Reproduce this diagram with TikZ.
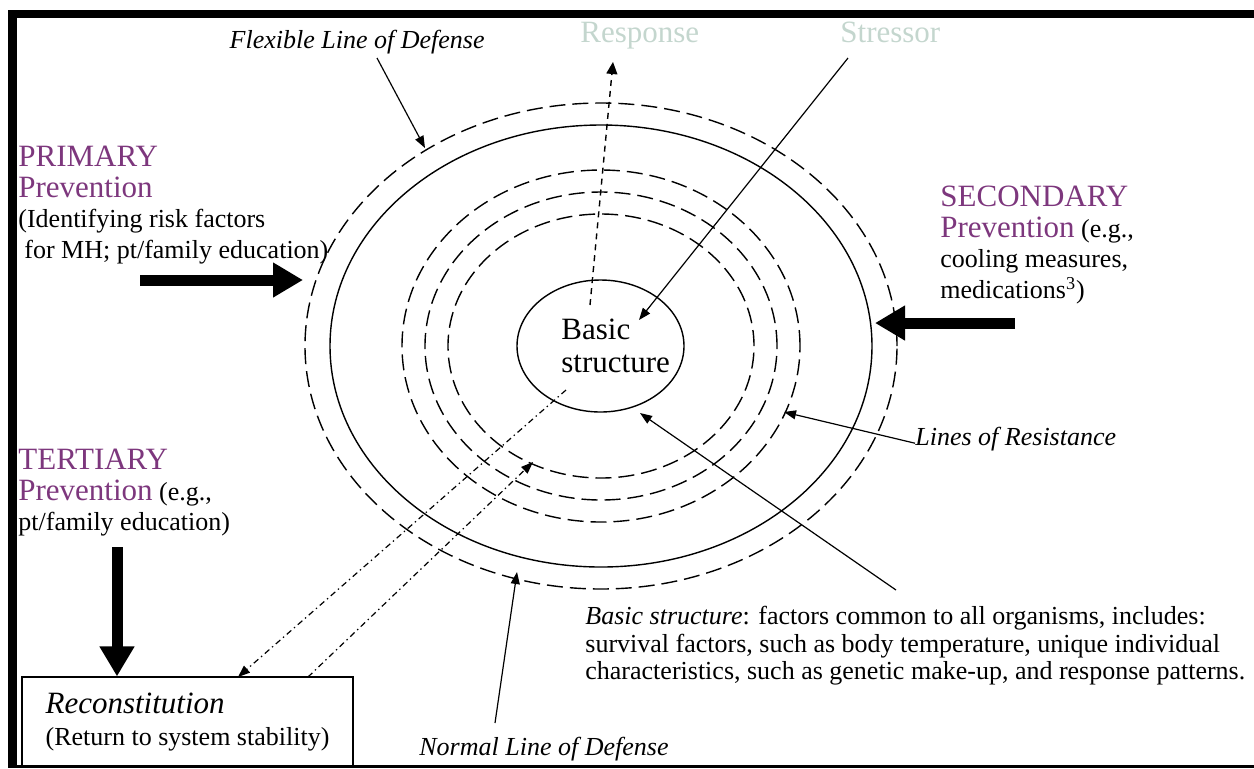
\documentclass[tikz,border=0pt]{standalone}
\usepackage{fontspec}
\setmainfont{Liberation Serif}
\usetikzlibrary{arrows.meta,shapes.geometric}
\definecolor{prevpurple}{RGB}{125,55,125}
\definecolor{palegreen}{RGB}{196,214,206}
\newcommand{\headtxt}[1]{{\color{prevpurple}\fontsize{15.5}{15.2}\selectfont #1}}
\tikzset{
  ring/.style={line width=0.7pt,dash pattern=on 8pt off 3.5pt},
  core/.style={draw,ellipse,line width=0.7pt,minimum width=83.5pt,minimum height=66pt,inner sep=0pt},
  thin arrow/.style={line width=0.6pt,-{Triangle[length=6pt,width=4.5pt]}},
  resp arrow/.style={line width=0.7pt,dash pattern=on 3pt off 2.5pt,-{Triangle[length=6pt,width=5.5pt]}},
  back arrow/.style={line width=0.6pt,dash pattern=on 3pt off 1.8pt on 0.7pt off 1.8pt,-{Triangle[length=6pt,width=4.5pt]}},
  big arrow/.style={line width=5.5pt,-{Triangle[length=15pt,width=16.5pt]}},
  linetxt/.style={font=\fontsize{13}{13.75}\selectfont\itshape,inner sep=0pt},
  toptxt/.style={font=\fontsize{15.5}{16}\selectfont,text=palegreen,inner sep=0pt},
  blocktxt/.style={font=\fontsize{13}{15.2}\selectfont,align=left,inner sep=0pt},
  bodytxt/.style={font=\fontsize{13}{13.75}\selectfont,align=left,inner sep=0pt},
  coretxt/.style={font=\fontsize{15.5}{16.5}\selectfont,align=left,inner sep=0pt},
  recbox/.style={draw,line width=0.6pt,font=\fontsize{13}{16}\selectfont,align=left,minimum width=165.5pt,minimum height=45pt}
}
\begin{document}
\begin{tikzpicture}[x=0.5pt,y=-0.5pt]
\useasboundingbox (0,0) rectangle (1254,768);

\coordinate (c) at (601,346);
\draw[ring] (c) ellipse [x radius=148pt,y radius=121.5pt];
\draw[line width=0.7pt] (c) ellipse [x radius=135.5pt,y radius=110.5pt];
\foreach \rx/\ry in {99.5/88,88/77,76.5/66}
  \draw[ring] (c) ellipse [x radius=\rx pt,y radius=\ry pt];
\node[core] (core) at (600.5,346) {};
\node[coretxt,anchor=north west] (coretxt) at (561,319) {Basic\\structure};

\node[linetxt,anchor=base east] (flex) at (485,48.6) {Flexible Line of Defense};
\node[toptxt,anchor=base west] (resp) at (580,42.3) {Response};
\node[toptxt,anchor=base west] (stress) at (840,42.3) {Stressor};

\node[blocktxt,anchor=north west] (prim) at (18,146)
  {\headtxt{PRIMARY}\\\headtxt{Prevention}\\(Identifying risk factors\\\hspace*{3pt}for MH; pt/family education)};
\node[blocktxt,anchor=north west] (sec) at (940,186)
  {\headtxt{SECONDARY}\\\headtxt{Prevention} (e.g.,\\cooling measures,\\medications\textsuperscript{3})};
\node[blocktxt,anchor=north west] (tert) at (18,449)
  {\headtxt{TERTIARY}\\\headtxt{Prevention} (e.g.,\\pt/family education)};
\node[recbox] (recon) at (187.5,722)
  {{\fontsize{15.5}{16}\selectfont\itshape Reconstitution}\\(Return to system stability)};

\node[linetxt,anchor=base west] (lres) at (915,445.6) {Lines of Resistance};
\node[linetxt,anchor=base west] (normal) at (419,755.6) {Normal Line of Defense};
\node[bodytxt,anchor=north west] (bsdesc) at (585,606)
  {\textit{Basic structure}: factors common to all organisms, includes:\\
   survival factors, such as body temperature, unique individual\\
   characteristics, such as genetic make-up, and response patterns.};

\coordinate (flextail) at (377,58);
\coordinate (flextip) at (425,148);
\coordinate (resptail) at (590,305);
\coordinate (resptip) at (613,62);
\coordinate (stresstail) at (848,58);
\coordinate (stresstip) at (639,320);
\coordinate (primtail) at (140,280);
\coordinate (primtip) at (303,280);
\coordinate (sectail) at (1015,323);
\coordinate (sectip) at (875,323);
\coordinate (terttail) at (117,547);
\coordinate (lrestip) at (784,412);
\coordinate (bstail) at (896,590);
\coordinate (bstip) at (640,413);
\coordinate (normtail) at (495,723);
\coordinate (normtip) at (517,572);
\coordinate (outtail) at (566,390);
\coordinate (outtip) at (238,677);
\coordinate (intail) at (308,677);
\coordinate (intip) at (533,462);

\draw[thin arrow] (flextail) -- (flextip);
\draw[resp arrow] (resptail) -- (resptip);
\draw[thin arrow] (stresstail) -- (stresstip);
\draw[big arrow] (primtail) -- (primtip);
\draw[big arrow] (sectail) -- (sectip);
\draw[big arrow] (terttail) -- (terttail |- recon.north);
\draw[thin arrow] ([yshift=-2pt]lres.west) -- (lrestip);
\draw[thin arrow] (bstail) -- (bstip);
\draw[thin arrow] (normtail) -- (normtip);
\draw[back arrow] (outtail) -- (outtip);
\draw[back arrow] (intail) -- (intip);

\fill (8,10) rectangle (1254,18);
\fill (8,10) rectangle (17,768);
\fill (8,765) rectangle (1254,768);
\end{tikzpicture}
\end{document}
